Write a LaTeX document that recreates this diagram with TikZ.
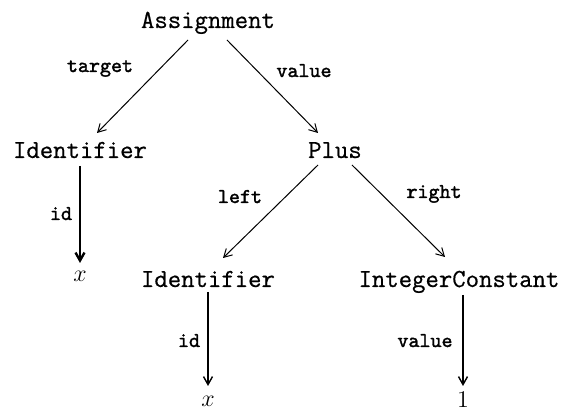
\documentclass[tikz,border=0pt]{standalone}
\usepackage{fontspec}
\usetikzlibrary{arrows.meta}
\newfontfamily\treefont{Latin Modern Mono}[FakeBold=0.6]
\newfontfamily\rolefont{Latin Modern Mono}[FakeBold=1.8]
\begin{document}
\begin{tikzpicture}[x=.5pt,y=-.5pt,
	tree/.style={font=\fontsize{13}{15}\selectfont\treefont, inner sep=0pt, anchor=base},
	leaf/.style={font=\fontsize{12}{14}\selectfont, inner sep=0pt, anchor=base},
	role/.style={font=\fontsize{10.5}{12}\selectfont\rolefont, inner sep=0pt, anchor=base},
	edge/.style={-{Straight Barb[length=4pt,width=4.5pt]}, line width=.5pt}]
		\useasboundingbox (0,0) rectangle (568,415);

		% tree nodes
		\node[tree] (asg) at (208,28) {Assignment};
		\node[tree] (idl) at (80,158) {Identifier};
		\node[tree] (plus) at (335,158) {Plus};
		\node[leaf] (xl) at (80,282) {$x$};
		\node[tree] (idm) at (208,287) {Identifier};
		\node[tree] (int) at (459,287) {IntegerConstant};
		\node[leaf] (xb) at (208,407) {$x$};
		\node[leaf] (one) at (463,408) {$1$};

		% field names
		\node[role] (target) at (100,72) {target};
		\node[role] (val) at (304,77) {value};
		\node[role] (idl-id) at (61,220) {id};
		\node[role] (lft) at (240,203) {left};
		\node[role] (rgt) at (434,198) {right};
		\node[role] (idm-id) at (189,347) {id};
		\node[role] (int-val) at (425,347) {value};

		\draw[edge] ([shift={(-20,12)}]asg.base) -- ([shift={(17,-25)}]idl.base);
		\draw[edge] ([shift={(19,12)}]asg.base) -- ([shift={(-17,-25)}]plus.base);
		\draw[edge, line width=1.2pt] ([shift={(0,8)}]idl.base) -- ([shift={(0,-19)}]xl.base);
		\draw[edge] ([shift={(-17,7)}]plus.base) -- ([shift={(15,-29)}]idm.base);
		\draw[edge] ([shift={(17,7)}]plus.base) -- ([shift={(-14,-30)}]int.base);
		\draw[edge, line width=.7pt] ([shift={(0,5)}]idm.base) -- ([shift={(0,-21)}]xb.base);
		\draw[edge, line width=.7pt] ([shift={(4,8)}]int.base) -- ([shift={(0,-22)}]one.base);
\end{tikzpicture}
\end{document}
